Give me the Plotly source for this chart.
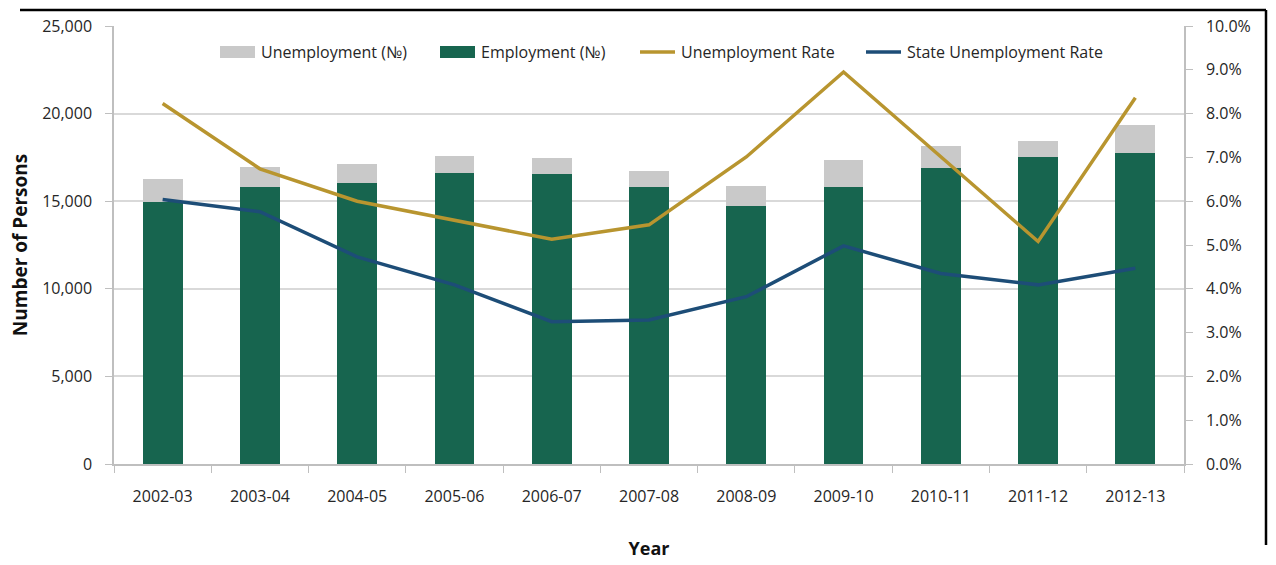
import plotly.graph_objects as go

years = ["2002-03", "2003-04", "2004-05", "2005-06", "2006-07", "2007-08",
         "2008-09", "2009-10", "2010-11", "2011-12", "2012-13"]
employment = [14950, 15790, 16060, 16590, 16550, 15790, 14750, 15790, 16880, 17520, 17730]
unemployment = [1310, 1140, 1050, 1010, 920, 950, 1120, 1580, 1290, 910, 1620]
unemp_rate = [0.0823, 0.0674, 0.0600, 0.0557, 0.0513, 0.0546, 0.0701, 0.0895, 0.0702, 0.0508, 0.0836]
state_rate = [0.0604, 0.0576, 0.0473, 0.0409, 0.0325, 0.0329, 0.0382, 0.0498, 0.0435, 0.0409, 0.0447]

GREEN = "#17654F"
GREY = "#C9C9C9"
GOLD = "#B8952F"
BLUE = "#1D4D77"
AXIS = "#BFBFBF"
GRID = "#D9D9D9"
FONT = "Open Sans, sans-serif"
TXT = "#262626"

fig = go.Figure()
fig.add_trace(go.Bar(x=years, y=employment, name="Employment (№)",
                     marker=dict(color=GREEN, line=dict(width=0)), width=0.41))
fig.add_trace(go.Bar(x=years, y=unemployment, name="Unemployment (№)",
                     marker=dict(color=GREY, line=dict(width=0)), width=0.41))
fig.add_trace(go.Scatter(x=years, y=unemp_rate, name="Unemployment Rate", yaxis="y2",
                         mode="lines", line=dict(color=GOLD, width=3.5)))
fig.add_trace(go.Scatter(x=years, y=state_rate, name="State Unemployment Rate", yaxis="y2",
                         mode="lines", line=dict(color=BLUE, width=3.5)))

fig.update_layout(
    width=1276, height=565,
    margin=dict(l=114, r=92, t=26, b=101),
    paper_bgcolor="white", plot_bgcolor="white",
    barmode="stack",
    showlegend=False,
    font=dict(family=FONT, size=16, color=TXT),
    xaxis=dict(
        type="category", showgrid=False, showline=True, linecolor=AXIS, linewidth=1.5,
        ticks="outside", tickson="boundaries", ticklen=7, tickcolor=AXIS,
        ticklabelstandoff=17, automargin=False,
        title=dict(text="<b>Year</b>", font=dict(size=18, color="#111"), standoff=36),
    ),
    yaxis=dict(
        range=[0, 25000], dtick=5000, tickformat=",", showgrid=True, gridcolor=GRID,
        gridwidth=1.5, showline=True, linecolor=AXIS, linewidth=1.5, zeroline=False,
        ticks="outside", ticklen=7, tickcolor=AXIS, ticklabelstandoff=10, automargin=False,
        title=dict(text="<b>Number of Persons</b>", font=dict(size=19, color="#111"), standoff=10),
    ),
    yaxis2=dict(
        range=[0, 0.10], dtick=0.01, tickformat=".1%", overlaying="y", side="right",
        showgrid=False, showline=True, linecolor=AXIS, linewidth=1.5, zeroline=False,
        ticks="outside", ticklen=7, tickcolor=AXIS, ticklabelstandoff=10, automargin=False,
    ),
)

# Legend row drawn across the top of the plot area
legend_items = [
    ("Unemployment (№)", GREY, "box", 220),
    ("Employment (№)", GREEN, "box", 440),
    ("Unemployment Rate", GOLD, "line", 640),
    ("State Unemployment Rate", BLUE, "line", 866),
]
ly = 52
for label, color, kind, x0 in legend_items:
    if kind == "box":
        fig.add_shape(type="rect", xref="paper", yref="paper",
                      x0=(x0 - 114) / 1070, x1=(x0 + 35 - 114) / 1070,
                      y0=(464 - ly - 6) / 438, y1=(464 - ly + 6) / 438,
                      fillcolor=color, line=dict(width=0))
    else:
        fig.add_shape(type="line", xref="paper", yref="paper",
                      x0=(x0 - 114) / 1070, x1=(x0 + 35 - 114) / 1070,
                      y0=(464 - ly) / 438, y1=(464 - ly) / 438,
                      line=dict(color=color, width=3.5))
    fig.add_annotation(text=label, xref="paper", yref="paper",
                       x=(x0 + 39 - 114) / 1070, y=(464 - ly) / 438,
                       xanchor="left", yanchor="middle", showarrow=False,
                       font=dict(family=FONT, size=16, color=TXT))

# Frame lines along the top and right edges
fig.add_shape(type="line", xref="paper", yref="paper",
              x0=(20 - 114) / 1070, x1=(1266 - 114) / 1070,
              y0=(464 - 10) / 438, y1=(464 - 10) / 438,
              line=dict(color="black", width=2.5))
fig.add_shape(type="line", xref="paper", yref="paper",
              x0=(1266 - 114) / 1070, x1=(1266 - 114) / 1070,
              y0=(464 - 10) / 438, y1=(464 - 545) / 438,
              line=dict(color="black", width=2.5))

fig.write_html("out.html")
